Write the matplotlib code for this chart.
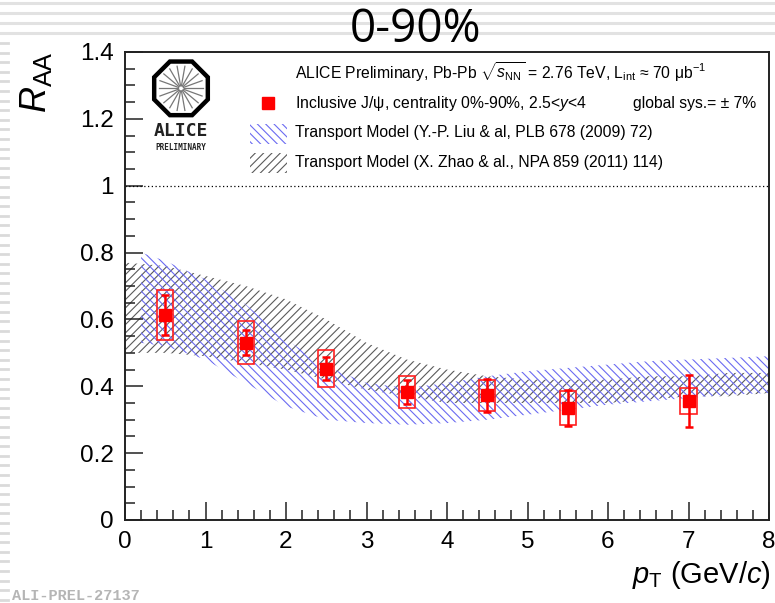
import numpy as np
import matplotlib
matplotlib.use("Agg")
import matplotlib.pyplot as plt
from matplotlib.patches import RegularPolygon, Rectangle
from matplotlib.lines import Line2D
from matplotlib.ticker import MultipleLocator, FormatStrFormatter

plt.rcParams['font.family'] = ['Liberation Sans', 'DejaVu Sans']
plt.rcParams['mathtext.fontset'] = 'custom'
plt.rcParams['mathtext.rm'] = 'Liberation Sans'
plt.rcParams['mathtext.it'] = 'Liberation Sans:italic'
plt.rcParams['mathtext.bf'] = 'Liberation Sans:bold'
plt.rcParams['hatch.linewidth'] = 0.8

# J/psi R_AA vs pT, 0-90% centrality
pt = [0.5, 1.5, 2.5, 3.5, 4.5, 5.5, 7.0]
raa = [0.613, 0.530, 0.453, 0.383, 0.373, 0.335, 0.356]
stat = [0.060, 0.037, 0.034, 0.036, 0.050, 0.053, 0.078]
syst = [0.076, 0.064, 0.055, 0.047, 0.047, 0.050, 0.040]

# transport model, Liu et al.
liu_pt = [0.2, 0.5, 1.0, 1.5, 2.0, 2.5, 3.0, 3.5, 4.0, 4.5, 5.0, 5.5, 6.0, 6.5, 7.0, 7.5, 8.0]
liu_hi = [0.80, 0.775, 0.72, 0.645, 0.54, 0.46, 0.41, 0.395, 0.41, 0.43, 0.445, 0.455, 0.465, 0.475, 0.48, 0.485, 0.49]
liu_lo = [0.53, 0.52, 0.48, 0.41, 0.34, 0.30, 0.29, 0.285, 0.29, 0.30, 0.315, 0.33, 0.345, 0.355, 0.365, 0.375, 0.38]

# transport model, Zhao et al.
zhao_pt = [0.0, 0.5, 1.0, 1.5, 2.0, 2.5, 3.0, 3.5, 4.0, 4.5, 5.0, 5.5, 6.0, 6.5, 7.0, 7.5, 8.0]
zhao_hi = [0.77, 0.76, 0.73, 0.70, 0.66, 0.60, 0.53, 0.48, 0.45, 0.43, 0.42, 0.42, 0.42, 0.43, 0.43, 0.44, 0.44]
zhao_lo = [0.50, 0.50, 0.49, 0.47, 0.45, 0.42, 0.39, 0.37, 0.35, 0.35, 0.35, 0.35, 0.35, 0.36, 0.37, 0.37, 0.38]

blue = '#6b6bf2'
grey = '#5a5a5a'
hatch_blue = '\\\\\\\\'
hatch_grey = '////'

fig = plt.figure(figsize=(7.75, 6.03), dpi=100)
ax = fig.add_axes([125 / 775, 1 - 520 / 603, 644 / 775, 468 / 603])

# slide background stripes
for yp in [3, 13, 23, 33]:
    fig.add_artist(Line2D([0, 1], [1 - yp / 603] * 2, color='#e2e2e2', lw=2.2))
for yp in np.arange(43, 603, 9.6):
    fig.add_artist(Line2D([0, 8 / 775], [1 - yp / 603] * 2, color='#dadada', lw=2.0))

ax.fill_between(zhao_pt, zhao_lo, zhao_hi, facecolor='none', edgecolor=grey,
                hatch=hatch_grey, linewidth=0)
ax.fill_between(liu_pt, liu_lo, liu_hi, facecolor='none', edgecolor=blue,
                hatch=hatch_blue, linewidth=0)

ax.axhline(1.0, color='black', lw=0.9, ls=(0, (1, 2)))

# systematic boxes
ax.bar(pt, [2 * s for s in syst], bottom=[r - s for r, s in zip(raa, syst)], width=0.2,
       fill=False, edgecolor='#ff2020', linewidth=1.2, zorder=4)
ax.errorbar(pt, raa, yerr=stat, fmt='s', color='red', ms=9, capsize=3,
            elinewidth=1.8, capthick=1.8, zorder=5)

ax.set_xlim(0, 8)
ax.set_ylim(0, 1.4)
ax.xaxis.set_major_locator(MultipleLocator(1))
ax.xaxis.set_minor_locator(MultipleLocator(0.2))
ax.yaxis.set_major_locator(MultipleLocator(0.2))
ax.yaxis.set_minor_locator(MultipleLocator(0.05))
ax.yaxis.set_major_formatter(FormatStrFormatter('%g'))
ax.tick_params(which='both', direction='in', top=False, right=False, labelsize=17.5,
               width=1.1, color='#222222')
ax.tick_params(which='major', length=13, pad=8)
ax.tick_params(which='minor', length=7)
for s in ax.spines.values():
    s.set_linewidth(1.4)
    s.set_color('#222222')

# legend block
fs = 11.3
ax.text(2.11, 1.340, r'ALICE Preliminary, Pb-Pb $\sqrt{s_{\rm NN}}$ = 2.76 TeV, L$_{\rm int}$ ≈ 70 μb$^{-1}$',
        fontsize=fs, va='center')
ax.plot([1.78], [1.247], 's', color='red', ms=9)
ax.text(2.11, 1.247, r'Inclusive J/ψ, centrality 0%-90%, 2.5<$y$<4', fontsize=fs, va='center')
ax.text(6.31, 1.247, 'global sys.= ± 7%', fontsize=fs, va='center')
ax.add_patch(Rectangle((1.555, 1.125), 0.46, 0.06, facecolor='none', edgecolor=blue,
                       hatch=hatch_blue, linewidth=0))
ax.text(2.11, 1.158, 'Transport Model (Y.-P. Liu & al, PLB 678 (2009) 72)', fontsize=fs, va='center')
ax.add_patch(Rectangle((1.555, 1.038), 0.46, 0.06, facecolor='none', edgecolor=grey,
                       hatch=hatch_grey, linewidth=0))
ax.text(2.11, 1.068, 'Transport Model (X. Zhao & al., NPA 859 (2011) 114)', fontsize=fs, va='center')

# ALICE logo
lax = fig.add_axes([148 / 775, 1 - 152 / 603, 66 / 775, 94 / 603])
lax.set_xlim(-1, 1)
lax.set_ylim(-1.85, 1)
lax.set_aspect('equal')
lax.axis('off')
lax.add_patch(RegularPolygon((0, 0.08), 8, radius=0.88, orientation=np.pi / 8,
                             facecolor='white', edgecolor='black', lw=3.2))
for a in np.linspace(0, 2 * np.pi, 18, endpoint=False):
    lax.plot([0.08 * np.cos(a), 0.68 * np.cos(a)], [0.08 + 0.08 * np.sin(a), 0.08 + 0.68 * np.sin(a)],
             color='#777777', lw=0.9)
lax.text(0, -1.22, 'ALICE', ha='center', va='center', fontsize=13, fontweight='bold',
         family='DejaVu Sans Mono', color='#222222')
lax.text(0, -1.72, 'PRELIMINARY', ha='center', va='center', fontsize=5.5, fontweight='bold',
         family='DejaVu Sans Mono', color='#222222')

fig.text(415 / 775, 1 - 30 / 603, '0-90%', ha='center', va='center', fontsize=33,
         family='Open Sans')
fig.text(36 / 775, 1 - 82 / 603, r'$R_{\rm AA}$', rotation=90, ha='center', va='center', fontsize=26)
fig.text(771 / 775, 1 - 575 / 603, r'$p_{\rm T}$ (GeV/$c$)', ha='right', va='center', fontsize=21)
fig.text(12 / 775, 1 - 596 / 603, 'ALI-PREL-27137', ha='left', va='center', fontsize=11,
         family='Liberation Mono', fontweight='bold', color='#b5b5b5')

fig.savefig('out.png', dpi=100)
